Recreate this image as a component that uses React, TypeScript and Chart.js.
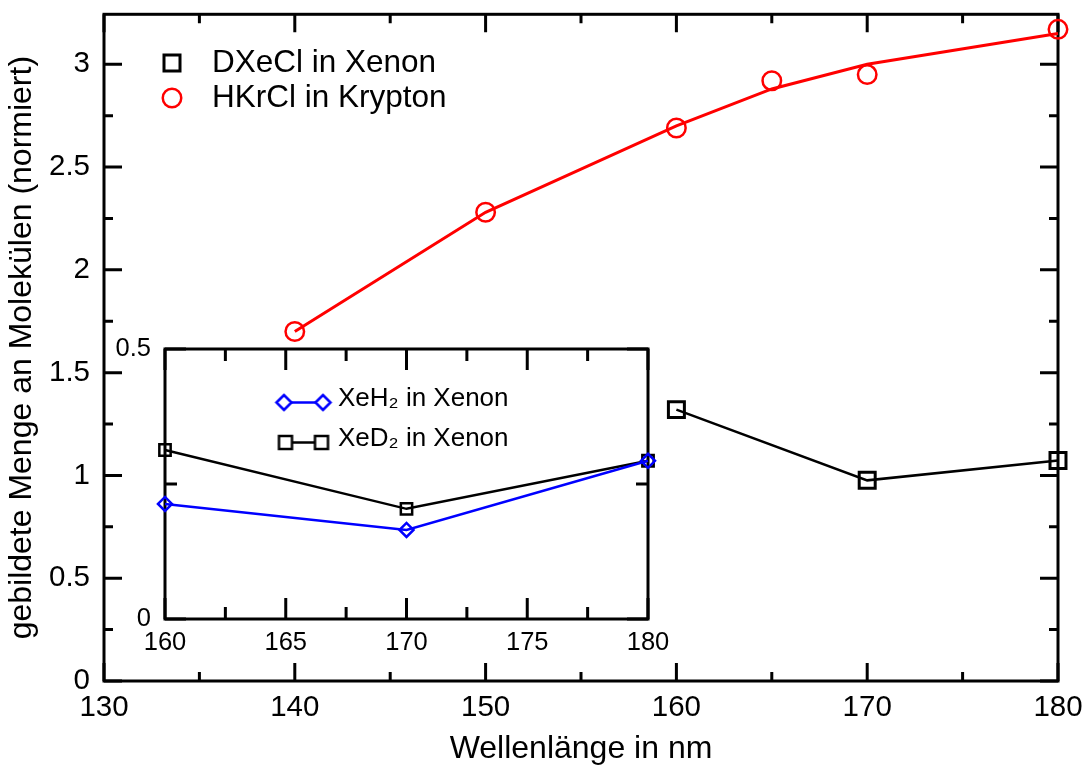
import React, { useEffect, useRef } from 'react';
import { Chart, registerables } from 'chart.js';

Chart.register(...registerables);

// ---------- data ----------
const hkrclX = [140, 150, 160, 165, 170, 180];
const hkrclY = [1.70, 2.28, 2.69, 2.92, 2.95, 3.17];
const fitX = [140, 150, 155, 160, 165, 170, 180];
const fitY = [1.70, 2.28, 2.49, 2.70, 2.88, 3.00, 3.15];
const dxeclX = [160, 170, 180];
const dxeclY = [1.32, 0.976, 1.073];
const insetX = [160, 170, 180];
const xeh2Y = [0.213, 0.165, 0.293];
const xed2Y = [0.313, 0.204, 0.293];
const mainLegend = ['DXeCl in Xenon', 'HKrCl in Krypton'];
const insetLegend = ['XeH₂ in Xenon', 'XeD₂ in Xenon'];
const xTitle = 'Wellenlänge in nm';
const yTitle = 'gebildete Menge an Molekülen (normiert)';

const FONT = '"Liberation Sans", Arial, Helvetica, sans-serif';

function pts(xs: number[], ys: number[]) {
  return xs.map((x, i) => ({ x, y: ys[i] }));
}

function makeIcon(w: number, h: number, draw: (ctx: CanvasRenderingContext2D) => void) {
  const c = document.createElement('canvas');
  c.width = w;
  c.height = h;
  const ctx = c.getContext('2d')!;
  draw(ctx);
  return c;
}

function innerTicks(cfg: { xMajor: number; xMinor: number; yMajor: number; yMinor: number; majorLen: number; minorLen: number; lw: number }) {
  return {
    id: 'innerTicks',
    beforeDatasetsDraw(chart: any) {
      const { ctx, chartArea: a, scales } = chart;
      const xs = scales.x;
      const ys = scales.y;
      const isMajor = (v: number, m: number) => Math.abs(v / m - Math.round(v / m)) < 1e-6;
      const vals = (min: number, max: number, step: number) => {
        const out: number[] = [];
        const start = Math.ceil(min / step - 1e-9);
        for (let k = start; k * step <= max + 1e-9; k++) out.push(k * step);
        return out;
      };
      ctx.save();
      ctx.strokeStyle = '#000';
      ctx.lineWidth = cfg.lw;
      ctx.lineCap = 'butt';
      ctx.beginPath();
      for (const v of vals(xs.min, xs.max, cfg.xMinor)) {
        const len = isMajor(v, cfg.xMajor) ? cfg.majorLen : cfg.minorLen;
        const p = xs.getPixelForValue(v);
        ctx.moveTo(p, a.bottom);
        ctx.lineTo(p, a.bottom - len);
        ctx.moveTo(p, a.top);
        ctx.lineTo(p, a.top + len);
      }
      for (const v of vals(ys.min, ys.max, cfg.yMinor)) {
        const len = isMajor(v, cfg.yMajor) ? cfg.majorLen : cfg.minorLen;
        const p = ys.getPixelForValue(v);
        ctx.moveTo(a.left, p);
        ctx.lineTo(a.left + len, p);
        ctx.moveTo(a.right, p);
        ctx.lineTo(a.right - len, p);
      }
      ctx.stroke();
      ctx.lineJoin = 'miter';
      ctx.strokeRect(a.left, a.top, a.right - a.left, a.bottom - a.top);
      ctx.restore();
    },
  };
}

function legendPos(left: number, top: number) {
  return {
    id: 'legendPos',
    afterLayout(chart: any) {
      const l = chart.legend;
      if (!l) return;
      l.left = left;
      l.top = top;
      l.right = left + 600;
      l.bottom = top + 400;
    },
  };
}

const zeroPad = (s: any) => {
  s.paddingLeft = 0;
  s.paddingRight = 0;
  s.paddingTop = 0;
  s.paddingBottom = 0;
};

const numLabel = (v: any) => String(Math.round(Number(v) * 1000) / 1000);

export default function App() {
  const mainRef = useRef<HTMLCanvasElement>(null);
  const insetRef = useRef<HTMLCanvasElement>(null);

  useEffect(() => {
    const squareIcon = makeIcon(24, 24, (ctx) => {
      ctx.strokeStyle = '#000';
      ctx.lineWidth = 3;
      ctx.strokeRect(4, 4, 16, 16);
    });
    const circleIcon = makeIcon(24, 24, (ctx) => {
      ctx.strokeStyle = '#ff0000';
      ctx.lineWidth = 2.5;
      ctx.beginPath();
      ctx.arc(12, 12, 9.25, 0, Math.PI * 2);
      ctx.stroke();
    });
    const diamondIcon = makeIcon(64, 36, (ctx) => {
      const cy = 18 + 3.5;
      ctx.strokeStyle = '#0000ff';
      ctx.fillStyle = '#fff';
      ctx.lineWidth = 2.5;
      ctx.beginPath();
      ctx.moveTo(12.5, cy);
      ctx.lineTo(51.5, cy);
      ctx.stroke();
      for (const cx of [12.5, 51.5]) {
        const r = 7.5;
        ctx.beginPath();
        ctx.moveTo(cx - r, cy);
        ctx.lineTo(cx, cy - r);
        ctx.lineTo(cx + r, cy);
        ctx.lineTo(cx, cy + r);
        ctx.closePath();
        ctx.fill();
        ctx.stroke();
      }
    });
    const sqLineIcon = makeIcon(64, 36, (ctx) => {
      const cy = 18 + 3.5;
      ctx.strokeStyle = '#000';
      ctx.fillStyle = '#fff';
      ctx.lineWidth = 2.5;
      ctx.beginPath();
      ctx.moveTo(14, cy);
      ctx.lineTo(50, cy);
      ctx.stroke();
      for (const cx of [14, 50]) {
        ctx.fillRect(cx - 6.5, cy - 6.5, 13, 13);
        ctx.strokeRect(cx - 6.5, cy - 6.5, 13, 13);
      }
    });
    const mainIcons = [squareIcon, circleIcon];
    const insetIcons = [diamondIcon, sqLineIcon];

    const tickFont = (size: number) => ({ family: FONT, size });

    const main = new Chart(mainRef.current!, {
      type: 'line',
      data: {
        datasets: [
          {
            label: mainLegend[0],
            data: pts(dxeclX, dxeclY),
            borderColor: '#000',
            borderWidth: 2.5,
            pointStyle: 'rect',
            pointRadius: 11.3,
            pointBorderWidth: 3,
            pointBorderColor: '#000',
            pointBackgroundColor: 'rgba(0,0,0,0)',
            tension: 0,
            clip: false,
          } as any,
          {
            label: mainLegend[1],
            data: pts(hkrclX, hkrclY),
            showLine: false,
            borderColor: '#ff0000',
            pointStyle: 'circle',
            pointRadius: 9.25,
            pointBorderWidth: 2.5,
            pointBorderColor: '#ff0000',
            pointBackgroundColor: 'rgba(0,0,0,0)',
            clip: false,
          } as any,
          {
            label: 'fit',
            data: pts(fitX, fitY),
            borderColor: '#ff0000',
            borderWidth: 3,
            pointRadius: 0,
            tension: 0,
            clip: false,
          } as any,
        ],
      },
      options: {
        animation: false,
        responsive: false,
        maintainAspectRatio: false,
        locale: 'en-US',
        events: [],
        layout: { padding: { left: 0, top: 13, right: 29, bottom: 0 } },
        scales: {
          x: {
            type: 'linear',
            min: 130,
            max: 180,
            grid: { display: false, drawTicks: false },
            border: { display: false },
            ticks: { stepSize: 10, padding: 9, color: '#000', font: tickFont(29.5), maxRotation: 0, autoSkip: false, includeBounds: false, callback: numLabel },
            title: { display: true, text: xTitle, color: '#000', font: { family: FONT, size: 32 }, padding: { top: 0, bottom: 1 } },
            afterFit: (s: any) => { s.height = 88; zeroPad(s); },
          },
          y: {
            type: 'linear',
            min: 0,
            max: 3.243,
            grid: { display: false, drawTicks: false },
            border: { display: false },
            ticks: { stepSize: 0.5, padding: 14, color: '#000', font: tickFont(29.5), autoSkip: false, includeBounds: false, callback: numLabel },
            title: { display: true, text: yTitle, color: '#000', font: { family: FONT, size: 32 }, padding: { top: 3, bottom: 0 } },
            afterFit: (s: any) => { s.width = 104; zeroPad(s); },
          },
        },
        plugins: {
          tooltip: { enabled: false },
          legend: {
            display: true,
            position: 'chartArea',
            align: 'start',
            labels: {
              usePointStyle: true,
              pointStyleWidth: 48.5,
              padding: 3.5,
              color: '#000',
              font: { family: FONT, size: 31.5 },
              generateLabels: () =>
                mainLegend.map((text, i) => ({
                  text,
                  pointStyle: mainIcons[i],
                  fillStyle: 'rgba(0,0,0,0)',
                  strokeStyle: 'rgba(0,0,0,0)',
                  lineWidth: 0,
                  hidden: false,
                  datasetIndex: i,
                  fontColor: '#000',
                })) as any,
            },
          },
        },
      } as any,
      plugins: [
        innerTicks({ xMajor: 10, xMinor: 5, yMajor: 0.5, yMinor: 0.25, majorLen: 18, minorLen: 9, lw: 3 }),
        legendPos(144.25, 43.75),
      ] as any,
    });

    const inset = new Chart(insetRef.current!, {
      type: 'line',
      data: {
        datasets: [
          {
            label: insetLegend[0],
            data: pts(insetX, xeh2Y),
            borderColor: '#0000ff',
            borderWidth: 2.5,
            pointStyle: 'rectRot',
            pointRadius: 7,
            pointBorderWidth: 2.5,
            pointBorderColor: '#0000ff',
            pointBackgroundColor: 'rgba(0,0,0,0)',
            tension: 0,
            clip: false,
          } as any,
          {
            label: insetLegend[1],
            data: pts(insetX, xed2Y),
            borderColor: '#000',
            borderWidth: 2.5,
            pointStyle: 'rect',
            pointRadius: 8,
            pointBorderWidth: 2.5,
            pointBorderColor: '#000',
            pointBackgroundColor: 'rgba(0,0,0,0)',
            tension: 0,
            clip: false,
          } as any,
        ],
      },
      options: {
        animation: false,
        responsive: false,
        maintainAspectRatio: false,
        locale: 'en-US',
        events: [],
        layout: { padding: { left: 0, top: 19, right: 32, bottom: 0 } },
        scales: {
          x: {
            type: 'linear',
            min: 160,
            max: 180,
            grid: { display: false, drawTicks: false },
            border: { display: false },
            ticks: { stepSize: 5, padding: 9, color: '#000', font: tickFont(25.5), maxRotation: 0, autoSkip: false, includeBounds: false, callback: numLabel },
            afterFit: (s: any) => { s.height = 51; zeroPad(s); },
          },
          y: {
            type: 'linear',
            min: 0,
            max: 0.5,
            grid: { display: false, drawTicks: false },
            border: { display: false },
            ticks: { stepSize: 0.5, padding: 14, color: '#000', font: tickFont(25.5), autoSkip: false, includeBounds: false, callback: numLabel },
            afterFit: (s: any) => { s.width = 65; zeroPad(s); },
          },
        },
        plugins: {
          tooltip: { enabled: false },
          legend: {
            display: true,
            position: 'chartArea',
            align: 'start',
            labels: {
              usePointStyle: true,
              pointStyleWidth: 43,
              padding: 14,
              color: '#000',
              font: { family: FONT, size: 26 },
              generateLabels: () =>
                insetLegend.map((text, i) => ({
                  text,
                  pointStyle: insetIcons[i],
                  fillStyle: 'rgba(0,0,0,0)',
                  strokeStyle: 'rgba(0,0,0,0)',
                  lineWidth: 0,
                  hidden: false,
                  datasetIndex: i,
                  fontColor: '#000',
                })) as any,
            },
          },
        },
      } as any,
      plugins: [
        innerTicks({ xMajor: 5, xMinor: 2.5, yMajor: 0.5, yMinor: 0.25, majorLen: 21, minorLen: 12, lw: 3 }),
        legendPos(168, 42),
      ] as any,
    });

    return () => {
      main.destroy();
      inset.destroy();
    };
  }, []);

  return (
    <div style={{ position: 'fixed', left: 0, top: 0, width: 1087, height: 769, background: '#fff' }}>
      <canvas
        ref={mainRef}
        width={1087}
        height={769}
        style={{ position: 'absolute', left: 0, top: 0, width: 1087, height: 769 }}
      />
      <canvas
        ref={insetRef}
        width={580}
        height={340}
        style={{ position: 'absolute', left: 100, top: 330, width: 580, height: 340 }}
      />
    </div>
  );
}
